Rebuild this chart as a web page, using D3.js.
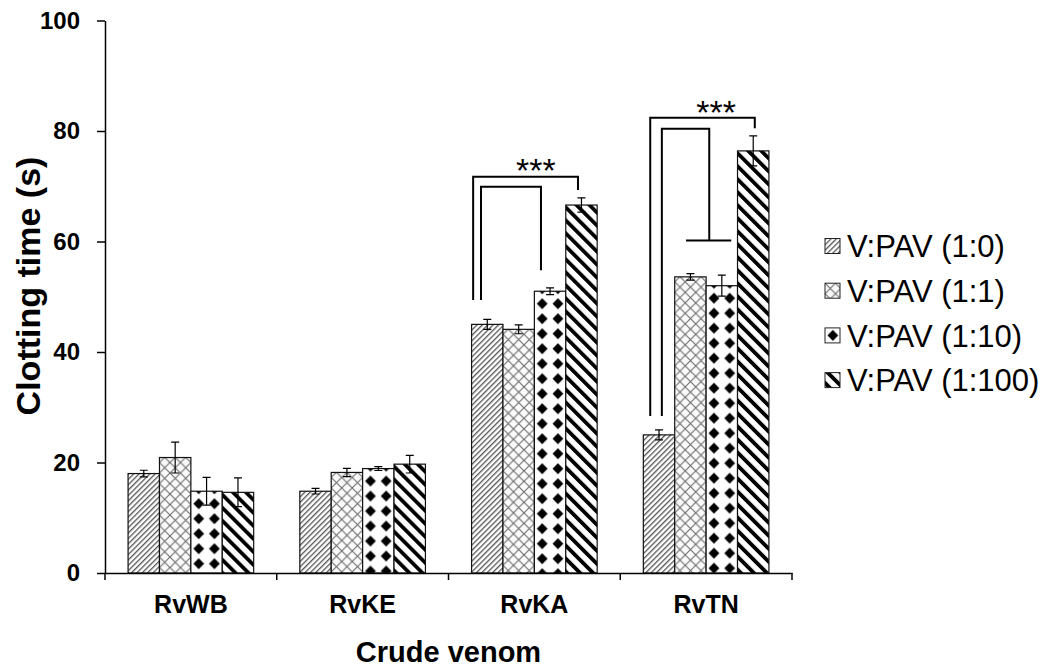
<!DOCTYPE html>
<html>
<head>
<meta charset="utf-8">
<script src="https://cdn.jsdelivr.net/npm/d3@7"></script>
<style>
  html, body { margin: 0; padding: 0; background: #fff; }
  svg { display: block; font-family: "Liberation Sans", Arial, sans-serif; }
</style>
</head>
<body>
<svg id="chart" width="1047" height="669"></svg>
<script>
// Clotting time of crude venoms with different venom:PAV ratios
const categories = ["RvWB", "RvKE", "RvKA", "RvTN"];
const seriesNames = ["V:PAV (1:0)", "V:PAV (1:1)", "V:PAV (1:10)", "V:PAV (1:100)"];

const mean_1_0   = [18.0, 14.8, 45.0, 25.0];
const mean_1_1   = [20.9, 18.2, 44.1, 53.6];
const mean_1_10  = [14.8, 18.9, 51.0, 52.0];
const mean_1_100 = [14.6, 19.7, 66.6, 76.4];

const err_1_0   = [0.6, 0.5, 0.9, 0.9];
const err_1_1   = [2.8, 0.75, 0.8, 0.6];
const err_1_10  = [2.5, 0.35, 0.6, 1.9];
const err_1_100 = [2.6, 1.6, 1.3, 2.7];

const yTicks = [0, 20, 40, 60, 80, 100];

const means = [mean_1_0, mean_1_1, mean_1_10, mean_1_100];
const errs = [err_1_0, err_1_1, err_1_10, err_1_100];

const rows = [];
categories.forEach((c, gi) => {
  seriesNames.forEach((s, si) => {
    rows.push({ cat: c, series: s, si, gi, value: means[si][gi], err: errs[si][gi] });
  });
});

const svg = d3.select("#chart");
const plotLeft = 105, plotRight = 792, plotTop = 20.5, plotBottom = 573;

const x0 = d3.scaleBand().domain(categories).range([plotLeft, plotRight]).paddingInner(0).paddingOuter(0);
const x1 = d3.scaleBand().domain(seriesNames).range([0, x0.bandwidth()]).paddingInner(0).paddingOuter(0.735);
const y = d3.scaleLinear().domain([0, 100]).range([plotBottom, plotTop]);
const bw = x1.bandwidth();

const defs = svg.append("defs");

// fill pattern builders; (ox, oy) anchor each pattern to its bar
function makePattern(id, si, ox, oy) {
  if (si === 0) {
    const p = defs.append("pattern").attr("id", id).attr("patternUnits", "userSpaceOnUse")
      .attr("width", 3.8).attr("height", 3.8)
      .attr("patternTransform", `translate(${ox},${oy}) rotate(45)`);
    p.append("rect").attr("width", 3.8).attr("height", 3.8).attr("fill", "#fff");
    p.append("rect").attr("width", 1.3).attr("height", 3.8).attr("fill", "#555");
  } else if (si === 1) {
    const s = 10.5;
    const p = defs.append("pattern").attr("id", id).attr("patternUnits", "userSpaceOnUse")
      .attr("width", s).attr("height", s)
      .attr("patternTransform", `translate(${ox},${oy})`);
    p.append("rect").attr("width", s).attr("height", s).attr("fill", "#fbfbfb");
    p.append("path").attr("d", `M0,0L${s},${s}M${s},0L0,${s}`)
      .attr("stroke", "#6a6a6a").attr("stroke-width", 1.1).attr("fill", "none");
  } else if (si === 2) {
    const w = 15.7, h = 15;
    const p = defs.append("pattern").attr("id", id).attr("patternUnits", "userSpaceOnUse")
      .attr("width", w).attr("height", h)
      .attr("patternTransform", `translate(${ox},${oy})`);
    p.append("rect").attr("width", w).attr("height", h).attr("fill", "#fff");
    const cx = w / 2, cy = h / 2, r = 5.4;
    p.append("path").attr("d", `M${cx},${cy - r}L${cx + r},${cy}L${cx},${cy + r}L${cx - r},${cy}Z`)
      .attr("fill", "#000");
  } else {
    const s = 9.2;
    const p = defs.append("pattern").attr("id", id).attr("patternUnits", "userSpaceOnUse")
      .attr("width", s).attr("height", s)
      .attr("patternTransform", `translate(${ox},${oy}) rotate(-45)`);
    p.append("rect").attr("width", s).attr("height", s).attr("fill", "#fff");
    p.append("rect").attr("width", 3.8).attr("height", s).attr("fill", "#000");
  }
}

rows.forEach(d => {
  d.x = x0(d.cat) + x1(d.series);
  d.pid = `fill-${d.gi}-${d.si}`;
  makePattern(d.pid, d.si, d.x, y(d.value) + 5);
});

// bars
svg.append("g").selectAll("rect").data(rows).join("rect")
  .attr("x", d => d.x)
  .attr("y", d => y(d.value))
  .attr("width", bw)
  .attr("height", d => y(0) - y(d.value))
  .attr("fill", d => `url(#${d.pid})`)
  .attr("stroke", "#111")
  .attr("stroke-width", 1.2);

// error bars
const eb = svg.append("g").attr("stroke", "#000").attr("stroke-width", 1.2).attr("fill", "none");
rows.forEach(d => {
  const cx = d.x + bw / 2, cap = 4;
  eb.append("path").attr("d",
    `M${cx},${y(d.value + d.err)}V${y(d.value - d.err)}` +
    `M${cx - cap},${y(d.value + d.err)}H${cx + cap}` +
    `M${cx - cap},${y(d.value - d.err)}H${cx + cap}`);
});

// y axis
const yAxis = svg.append("g").attr("transform", `translate(${plotLeft},0)`)
  .call(d3.axisLeft(y).tickValues(yTicks).tickSize(8).tickPadding(17).tickSizeOuter(0));
yAxis.select(".domain").attr("stroke", "#000").attr("stroke-width", 1.5);
yAxis.selectAll(".tick line").attr("stroke", "#000").attr("stroke-width", 1.5);
yAxis.selectAll(".tick text").attr("font-size", 24).attr("font-weight", "bold").attr("fill", "#000")
  .attr("font-family", "'Liberation Sans', Arial, sans-serif");

// x axis: labels centred, ticks on category boundaries
const xAxis = svg.append("g").attr("transform", `translate(0,${plotBottom})`)
  .call(d3.axisBottom(x0).tickSize(0).tickPadding(22).tickSizeOuter(0));
xAxis.select(".domain").attr("stroke", "#000").attr("stroke-width", 1.5);
xAxis.selectAll(".tick text").attr("font-size", 25).attr("font-weight", "bold").attr("fill", "#000")
  .attr("font-family", "'Liberation Sans', Arial, sans-serif");
const bounds = categories.map(c => x0(c)).concat([x0(categories[categories.length - 1]) + x0.bandwidth()]);
svg.append("g").selectAll("line").data(bounds).join("line")
  .attr("x1", d => d).attr("x2", d => d)
  .attr("y1", plotBottom).attr("y2", plotBottom + 7)
  .attr("stroke", "#000").attr("stroke-width", 1.5);

// axis titles
svg.append("text")
  .attr("x", (plotLeft + plotRight) / 2).attr("y", 662)
  .attr("text-anchor", "middle").attr("font-size", 29).attr("font-weight", "bold")
  .text("Crude venom");
svg.append("text")
  .attr("transform", `translate(40,286) rotate(-90)`)
  .attr("text-anchor", "middle").attr("font-size", 34).attr("font-weight", "bold")
  .text("Clotting time (s)");

// significance brackets
const bracketSpecs = [
  { cat: "RvKA", from: [0, 0.05], to: [3, 0.39], top: 71.7, leftEnd: 49.4, rightEnd: 69.3 },
  { cat: "RvKA", from: [0, 0.30], to: [2, 0.21], top: 69.9, leftEnd: 49.4, rightEnd: 54.8 },
  { cat: "RvTN", from: [0, 0.22], to: [3, 0.55], top: 82.4, leftEnd: 28.4, rightEnd: 80.5 },
  { cat: "RvTN", from: [0, 0.59], to: [2, 0.10], top: 80.4, leftEnd: 28.4, rightEnd: 60.2,
    tee: [[1, 0.36], [2, 0.80]] }
];
const starLabels = [
  { cat: "RvKA", at: [2, 0.05], value: 70.7, text: "***" },
  { cat: "RvTN", at: [2, 0.32], value: 81.2, text: "***" }
];
const px = (cat, [si, f]) => x0(cat) + x1(seriesNames[si]) + f * bw;

const br = svg.append("g").attr("stroke", "#000").attr("stroke-width", 2).attr("fill", "none");
bracketSpecs.forEach(b => {
  const xa = px(b.cat, b.from), xb = px(b.cat, b.to);
  br.append("path").attr("d", `M${xa},${y(b.leftEnd)}V${y(b.top)}H${xb}V${y(b.rightEnd)}`);
  if (b.tee) {
    br.append("path").attr("d", `M${px(b.cat, b.tee[0])},${y(b.rightEnd)}H${px(b.cat, b.tee[1])}`);
  }
});
svg.append("g").selectAll("text").data(starLabels).join("text")
  .attr("x", d => px(d.cat, d.at)).attr("y", d => y(d.value))
  .attr("text-anchor", "middle").attr("font-size", 34).attr("fill", "#000")
  .text(d => d.text);

// legend
const legend = svg.append("g");
seriesNames.forEach((s, si) => {
  const cy = 246 + si * 44.7;
  const pid = `legend-fill-${si}`;
  makePattern(pid, si, 825, cy - 7.5);
  legend.append("rect").attr("x", 825).attr("y", cy - 7.5).attr("width", 15).attr("height", 15)
    .attr("fill", `url(#${pid})`).attr("stroke", "#222").attr("stroke-width", 1);
  legend.append("text").attr("x", 847).attr("y", cy).attr("dy", "0.36em")
    .attr("font-size", 31).attr("fill", "#000").text(s);
});
</script>
</body>
</html>
